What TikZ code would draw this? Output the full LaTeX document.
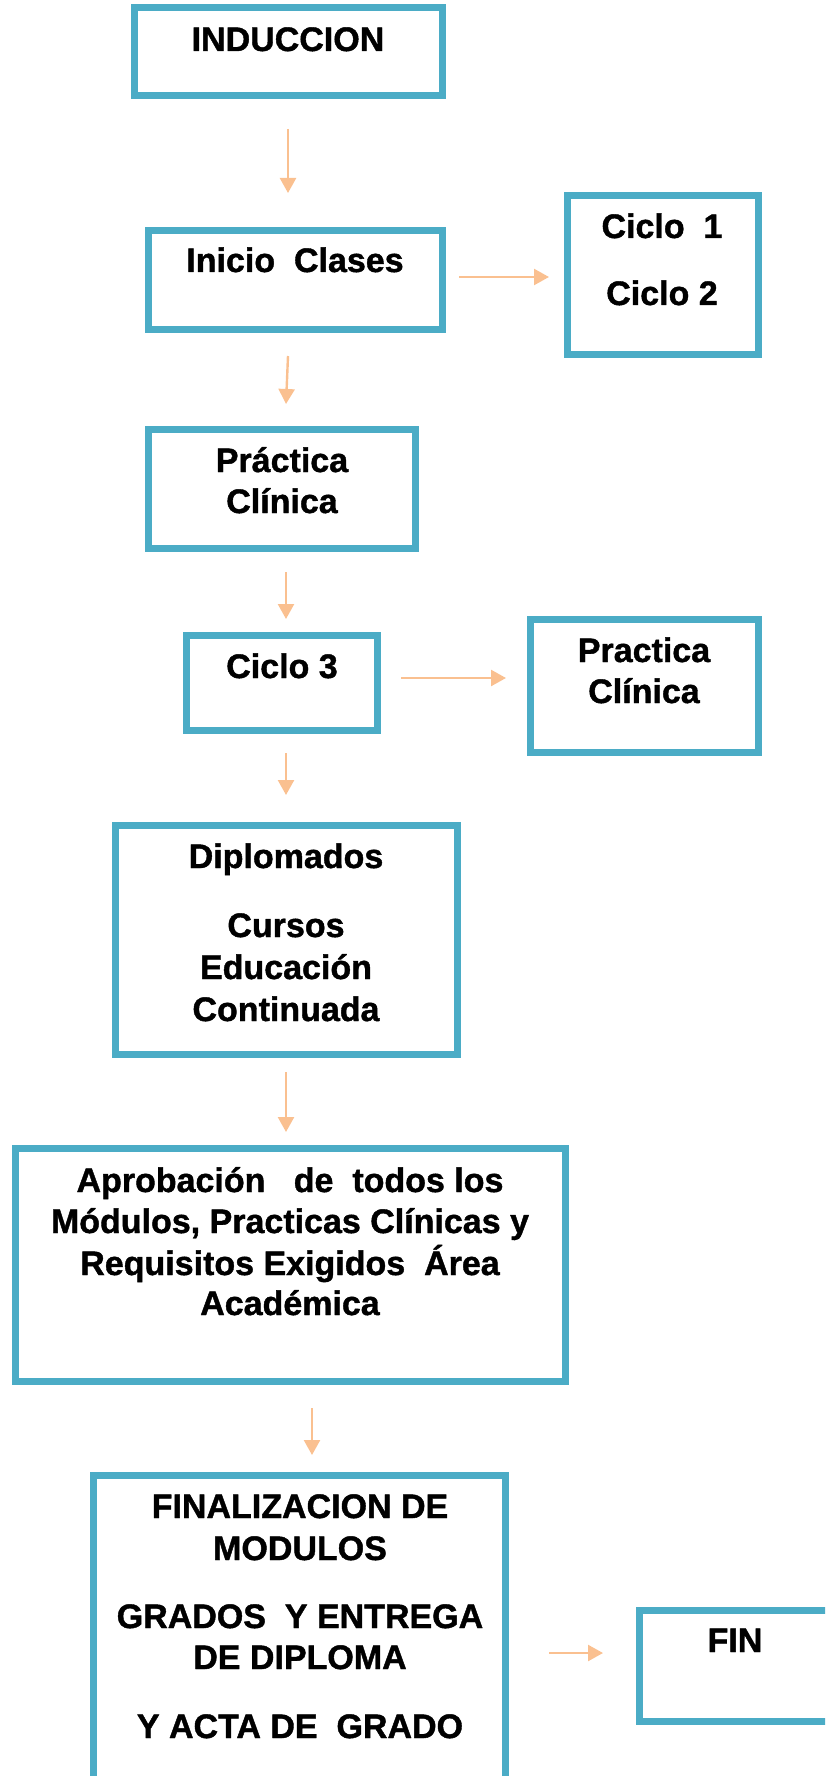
\documentclass[tikz,border=0pt]{standalone}
\usepackage{fontspec}
\setmainfont[BoldFeatures={FakeBold=1.2}]{Liberation Sans}
\usetikzlibrary{arrows.meta}
\definecolor{boxblue}{HTML}{4BACC6}
\definecolor{arrorange}{HTML}{FAC090}
\tikzset{
  box/.style={draw=boxblue, line width=7pt, fill=white, inner sep=0pt},
  lbl/.style={anchor=base, inner sep=0pt, font=\fontsize{34}{41}\selectfont\bfseries},
  flow/.style={draw=arrorange, line width=2.4pt, -{Triangle[width=16pt,length=15pt]}}
}
\begin{document}
\begin{tikzpicture}[x=1pt, y=-1pt]
\useasboundingbox (0,0) rectangle (825,1776);
\clip (0,0) rectangle (825,1776);

% boxes
\node[box, minimum width=308, minimum height=88]  (indu)   at (288.5,51.5) {};
\node[box, minimum width=294, minimum height=99]  (inicio) at (295.5,280) {};
\node[box, minimum width=191, minimum height=159] (ciclos) at (663,275) {};
\node[box, minimum width=267, minimum height=119] (pract)  at (282,489) {};
\node[box, minimum width=191, minimum height=95]  (ciclo3) at (282,683) {};
\node[box, minimum width=228, minimum height=133] (pract2) at (644.5,686) {};
\node[box, minimum width=342, minimum height=229] (diplo)  at (286.5,940) {};
\node[box, minimum width=550, minimum height=233] (aprob)  at (290.5,1265) {};
\node[box, minimum width=412, minimum height=321] (final)  at (299.5,1636) {};
\node[box, minimum width=207, minimum height=111] (fin)    at (743,1666) {};

% labels
\node[lbl] (tindu) at (288,51) {INDUCCION};
\node[lbl] (tinicio) at (295,272) {Inicio\ \ Clases};
\node[lbl] (tc1) at (662,238) {Ciclo\ \ 1};
\node[lbl] (tc2) at (662,305) {Ciclo 2};
\node[lbl] (tp1) at (282,472) {Práctica};
\node[lbl] (tp2) at (282,513) {Clínica};
\node[lbl] (tc3) at (282,678) {Ciclo 3};
\node[lbl] (tq1) at (644,662) {Practica};
\node[lbl] (tq2) at (644,703) {Clínica};
\node[lbl] (td1) at (286,868) {Diplomados};
\node[lbl] (td2) at (286,937) {Cursos};
\node[lbl] (td3) at (286,979) {Educación};
\node[lbl] (td4) at (286,1021) {Continuada};
\node[lbl] (ta1) at (290,1192) {Aprobación\ \ \ de\ \ todos los};
\node[lbl] (ta2) at (290,1233) {Módulos, Practicas Clínicas y};
\node[lbl] (ta3) at (290,1275) {Requisitos Exigidos\ \ Área};
\node[lbl] (ta4) at (290,1315) {Académica};
\node[lbl] (tf1) at (300,1518) {FINALIZACION DE};
\node[lbl] (tf2) at (300,1560) {MODULOS};
\node[lbl] (tf3) at (300,1628) {GRADOS\ \ Y ENTREGA};
\node[lbl] (tf4) at (300,1669) {DE DIPLOMA};
\node[lbl] (tf5) at (300,1738) {Y ACTA DE\ \ GRADO};
\node[lbl] (tfin) at (735,1652) {FIN};

% arrow end points
\coordinate (a1s) at (288,129);  \coordinate (a1e) at (288,193);
\coordinate (a2s) at (288,356);  \coordinate (a2e) at (286,404);
\coordinate (a3s) at (286,572);  \coordinate (a3e) at (286,619);
\coordinate (a4s) at (286,753);  \coordinate (a4e) at (286,795);
\coordinate (a5s) at (286,1072); \coordinate (a5e) at (286,1132);
\coordinate (a6s) at (312,1408); \coordinate (a6e) at (312,1455);
\coordinate (h1s) at (459,277);  \coordinate (h1e) at (549,277);
\coordinate (h2s) at (401,678);  \coordinate (h2e) at (506,678);
\coordinate (h3s) at (549,1653); \coordinate (h3e) at (603,1653);

% arrows
\draw[flow] (a1s) -- (a1e);
\draw[flow] (a2s) -- (a2e);
\draw[flow] (a3s) -- (a3e);
\draw[flow] (a4s) -- (a4e);
\draw[flow] (a5s) -- (a5e);
\draw[flow] (a6s) -- (a6e);
\draw[flow] (h1s) -- (h1e);
\draw[flow] (h2s) -- (h2e);
\draw[flow] (h3s) -- (h3e);
\end{tikzpicture}
\end{document}
